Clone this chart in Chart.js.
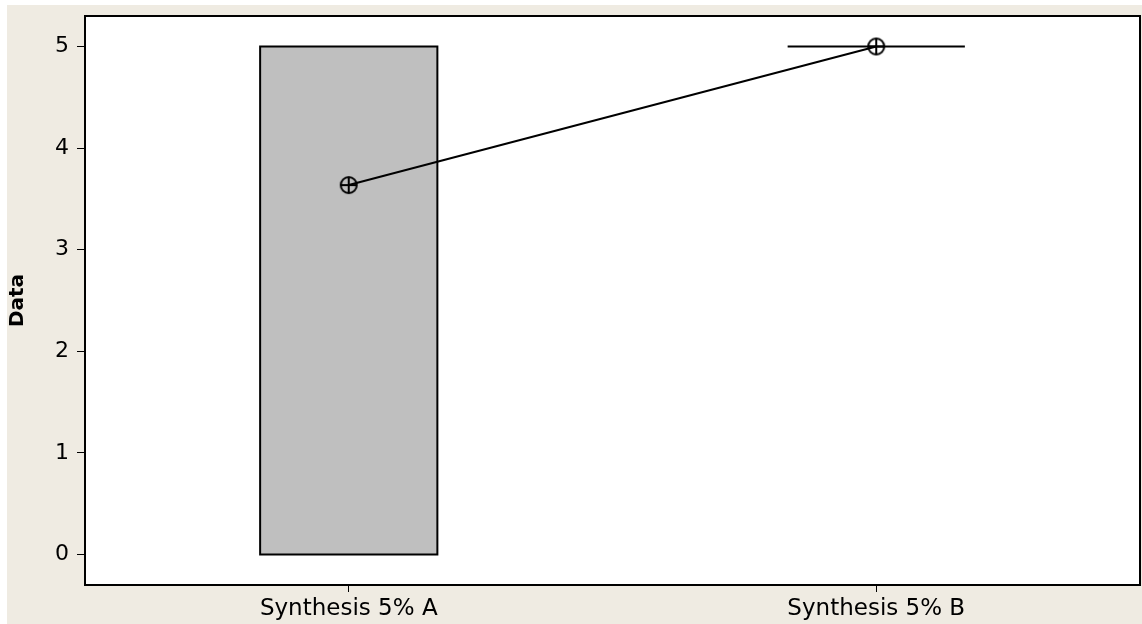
<!DOCTYPE html>
<html>
<head>
<meta charset="utf-8">
<script src="https://cdn.jsdelivr.net/npm/chart.js@4"></script>
<style>
  html, body { margin: 0; padding: 0; background: #fff; }
  #wrap { width: 1142px; height: 624px; }
</style>
</head>
<body>
<div id="wrap"><canvas id="myChart" width="1142" height="624"></canvas></div>
<script>
const categories = ["Synthesis 5% A", "Synthesis 5% B"];
const q1Values = [0, 5];
const medianValues = [5, 5];
const q3Values = [5, 5];
const whiskerLow = [0, 5];
const whiskerHigh = [5, 5];
const meanValues = [3.636, 5];
const yTicks = [0, 1, 2, 3, 4, 5];

// circle with a cross, like the mean symbol
const meanSymbol = document.createElement("canvas");
meanSymbol.width = 22;
meanSymbol.height = 22;
(() => {
    const c = meanSymbol.getContext("2d");
    c.strokeStyle = "#000";
    c.lineWidth = 2;
    c.beginPath();
    c.arc(11, 11, 8, 0, Math.PI * 2);
    c.moveTo(11, 3); c.lineTo(11, 19);
    c.moveTo(3, 11); c.lineTo(19, 11);
    c.stroke();
})();

// page background + plot frame
const frame = {
    id: "frame",
    beforeDraw(chart) {
        const {ctx, chartArea: a} = chart;
        ctx.save();
        ctx.fillStyle = "#EFEBE2";
        ctx.fillRect(7, 5, chart.width - 7, chart.height - 5);
        ctx.fillStyle = "#fff";
        ctx.fillRect(a.left, a.top, a.right - a.left, a.bottom - a.top);
        ctx.restore();
    },
    afterDraw(chart) {
        const {ctx, chartArea: a} = chart;
        ctx.save();
        ctx.strokeStyle = "#000";
        ctx.lineWidth = 2;
        ctx.strokeRect(a.left, a.top, a.right - a.left, a.bottom - a.top);
        ctx.restore();
    }
};

// boxes drawn from the quartile arrays through the scales
const boxes = {
    id: "boxes",
    beforeDatasetsDraw(chart) {
        const {ctx, scales: {x, y}} = chart;
        const half = (x.width / categories.length) * 0.336 / 2;
        ctx.save();
        ctx.strokeStyle = "#000";
        ctx.lineWidth = 2;
        categories.forEach((c, i) => {
            const cx = x.getPixelForValue(i);
            const top = y.getPixelForValue(q3Values[i]);
            const bot = y.getPixelForValue(q1Values[i]);
            const med = y.getPixelForValue(medianValues[i]);
            ctx.fillStyle = "#BFBFBF";
            ctx.fillRect(cx - half, top, half * 2, bot - top);
            ctx.beginPath();
            ctx.rect(cx - half, top, half * 2, bot - top);
            ctx.moveTo(cx - half, med); ctx.lineTo(cx + half, med);
            ctx.moveTo(cx, top); ctx.lineTo(cx, y.getPixelForValue(whiskerHigh[i]));
            ctx.moveTo(cx, bot); ctx.lineTo(cx, y.getPixelForValue(whiskerLow[i]));
            ctx.stroke();
        });
        ctx.restore();
    }
};

new Chart("myChart", {
    type: "line",
    data: {
        labels: categories,
        datasets: [{
            data: meanValues,
            borderColor: "#000",
            borderWidth: 2,
            pointStyle: meanSymbol,
            pointRadius: 11,
            fill: false,
            tension: 0
        }]
    },
    options: {
        responsive: false,
        animation: false,
        events: [],
        layout: {autoPadding: false, padding: {left: 0, top: 16, right: 2, bottom: 0}},
        plugins: {legend: {display: false}, tooltip: {enabled: false}},
        scales: {
            x: {
                offset: true,
                grid: {offset: false, drawOnChartArea: false, tickLength: 7, color: "#000", lineWidth: 1},
                border: {display: false},
                ticks: {color: "#000", padding: 3, font: {family: "DejaVu Sans", size: 23}},
                afterFit(s) { s.height = 39; s.paddingLeft = 0; s.paddingRight = 0; }
            },
            y: {
                min: -0.3,
                max: 5.3,
                afterBuildTicks(s) { s.ticks = yTicks.map(v => ({value: v})); },
                grid: {drawOnChartArea: false, tickLength: 8, color: "#000", lineWidth: 1},
                border: {display: false},
                ticks: {color: "#000", padding: 8, font: {family: "DejaVu Sans", size: 22}},
                title: {
                    display: true,
                    text: "Data",
                    color: "#000",
                    padding: {top: 6, bottom: 0},
                    font: {family: "DejaVu Sans", size: 20, weight: "bold"}
                },
                afterFit(s) { s.width = 85; s.paddingTop = 0; s.paddingBottom = 0; }
            }
        }
    },
    plugins: [frame, boxes]
});
</script>
</body>
</html>
